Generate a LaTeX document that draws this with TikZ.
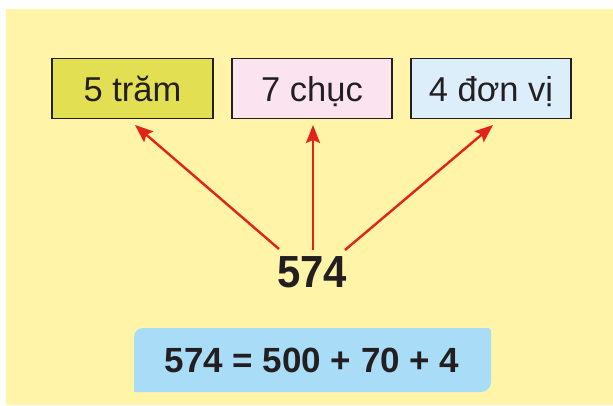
\documentclass[tikz,border=0pt]{standalone}
\usepackage{fontspec}
\setmainfont{Liberation Sans}
\usetikzlibrary{arrows.meta}
\definecolor{bgyellow}{HTML}{FFF4A8}
\definecolor{boxa}{HTML}{E3DF52}
\definecolor{boxb}{HTML}{FBE4F0}
\definecolor{boxc}{HTML}{DDEEFB}
\definecolor{eqblue}{HTML}{A9DCF6}
\definecolor{arrred}{HTML}{E2231A}
\definecolor{inkdark}{HTML}{231F20}
\tikzset{
  unitbox/.style={draw=inkdark, line width=1.6pt, minimum height=60pt, inner sep=0pt, text height=25pt, text depth=0pt, text=inkdark, font=\fontsize{34.5}{34.5}\selectfont},
  redarrow/.style={draw=arrred, line width=2.4pt, -{Stealth[length=18pt,width=14pt,inset=3pt]}},
}
\begin{document}
\begin{tikzpicture}[x=1pt,y=-1pt]
\useasboundingbox (0,0) rectangle (613,405);
\fill[white] (0,0) rectangle (613,405);
\fill[bgyellow] (6,9) rectangle (613,405);
\node[unitbox, fill=boxa, minimum width=161pt] (hund) at (132.5,88.5) {5 trăm};
\node[unitbox, fill=boxb, minimum width=160pt] (tens) at (312,88.5) {7 chục};
\node[unitbox, fill=boxc, minimum width=160pt] (ones) at (491,88.5) {4 đơn vị};
\node[text=inkdark, font=\fontsize{45}{45}\selectfont\bfseries, inner sep=0pt, xscale=0.93] (num) at (312,272) {574};
\coordinate (s1) at (279,249);
\coordinate (s2) at (313,250);
\coordinate (s3) at (345,250);
\coordinate (t1) at (135,125);
\coordinate (t2) at (313,125);
\coordinate (t3) at (493,125);
\draw[redarrow] (s1) -- (t1);
\draw[redarrow] (s2) -- (t2);
\draw[redarrow] (s3) -- (t3);
\fill[eqblue] (134,392) [rounded corners=9pt] -- (134,328) [rounded corners=3pt] -- (491,328) [rounded corners=10pt] -- (491,392) [sharp corners] -- cycle;
\node[text=inkdark, font=\fontsize{35}{35}\selectfont\bfseries, inner sep=0pt] (eq) at (312,360) {574 = 500 + 70 + 4};
\end{tikzpicture}
\end{document}
